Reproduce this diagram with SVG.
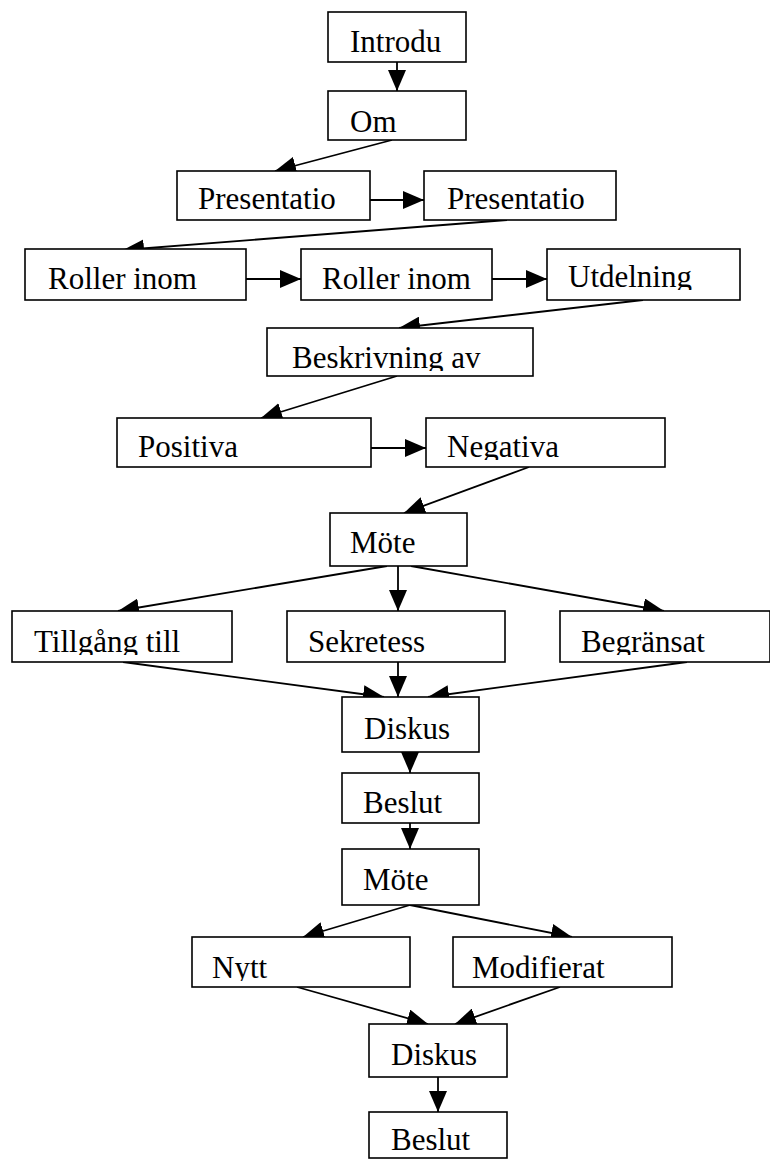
<svg xmlns="http://www.w3.org/2000/svg" width="770" height="1160" viewBox="0 0 770 1160">
<style>
.box{fill:#fff;stroke:#000;stroke-width:1.6}
.lbl{font-family:"Liberation Serif","Times New Roman",serif;font-size:31px;fill:#000}
.edge{stroke:#000;stroke-width:1.8;fill:none;marker-end:url(#ah)}
</style>
<defs>
<marker id="ah" markerUnits="userSpaceOnUse" markerWidth="22" markerHeight="18" refX="21" refY="9" orient="auto">
<path d="M0,0 L21,9 L0,18 Z" fill="#000"/>
</marker>
<clipPath id="c1"><rect x="328" y="12" width="138" height="43"/></clipPath>
<clipPath id="c2"><rect x="328" y="91" width="138" height="44"/></clipPath>
<clipPath id="c3"><rect x="177" y="171" width="193" height="41"/></clipPath>
<clipPath id="c4"><rect x="424" y="171" width="192" height="41"/></clipPath>
<clipPath id="c5"><rect x="25" y="249" width="221" height="43"/></clipPath>
<clipPath id="c6"><rect x="301" y="249" width="191" height="43"/></clipPath>
<clipPath id="c7"><rect x="547" y="249" width="193" height="41"/></clipPath>
<clipPath id="c8"><rect x="267" y="328" width="266" height="43"/></clipPath>
<clipPath id="c9"><rect x="117" y="418" width="254" height="42"/></clipPath>
<clipPath id="c10"><rect x="426" y="418" width="239" height="42"/></clipPath>
<clipPath id="c11"><rect x="330" y="513" width="137" height="44"/></clipPath>
<clipPath id="c12"><rect x="12" y="611" width="220" height="44"/></clipPath>
<clipPath id="c13"><rect x="287" y="611" width="218" height="44"/></clipPath>
<clipPath id="c14"><rect x="560" y="611" width="210" height="44"/></clipPath>
<clipPath id="c15"><rect x="342" y="697" width="137" height="45"/></clipPath>
<clipPath id="c16"><rect x="342" y="773" width="137" height="43"/></clipPath>
<clipPath id="c17"><rect x="342" y="849" width="137" height="45"/></clipPath>
<clipPath id="c18"><rect x="192" y="937" width="218" height="44"/></clipPath>
<clipPath id="c19"><rect x="453" y="937" width="219" height="44"/></clipPath>
<clipPath id="c20"><rect x="369" y="1024" width="138" height="45"/></clipPath>
<clipPath id="c21"><rect x="369" y="1112" width="138" height="41"/></clipPath>
</defs>

<g id="connectors">
<line class="edge" x1="397" y1="62" x2="397" y2="91"/>
<line class="edge" x1="392" y1="140" x2="275" y2="171"/>
<line class="edge" x1="370" y1="200" x2="424" y2="200"/>
<line class="edge" x1="507" y1="220" x2="123" y2="250"/>
<line class="edge" x1="246" y1="279" x2="301" y2="279"/>
<line class="edge" x1="492" y1="279" x2="547" y2="279"/>
<line class="edge" x1="643" y1="300" x2="399" y2="328"/>
<line class="edge" x1="397" y1="376" x2="261" y2="418"/>
<line class="edge" x1="371" y1="448" x2="426" y2="448"/>
<line class="edge" x1="529" y1="467" x2="404" y2="513"/>
<line class="edge" x1="387" y1="566" x2="118" y2="611"/>
<line class="edge" x1="398" y1="566" x2="398" y2="611"/>
<line class="edge" x1="411" y1="566" x2="664" y2="611"/>
<line class="edge" x1="123" y1="662" x2="384" y2="697"/>
<line class="edge" x1="398" y1="662" x2="398" y2="697"/>
<line class="edge" x1="687" y1="662" x2="428" y2="697"/>
<line class="edge" x1="410" y1="752" x2="410" y2="773"/>
<line class="edge" x1="410" y1="823" x2="410" y2="849"/>
<line class="edge" x1="410" y1="905" x2="303" y2="937"/>
<line class="edge" x1="410" y1="905" x2="572" y2="937"/>
<line class="edge" x1="297" y1="987" x2="428" y2="1024"/>
<line class="edge" x1="560" y1="987" x2="455" y2="1024"/>
<line class="edge" x1="438" y1="1077" x2="438" y2="1112"/>
</g>

<g id="n1"><rect class="box" x="328" y="12" width="138" height="50"/><text class="lbl" x="350" y="52" clip-path="url(#c1)">Introdu</text></g>
<g id="n2"><rect class="box" x="328" y="91" width="138" height="49"/><text class="lbl" x="350" y="132" clip-path="url(#c2)">Om</text></g>
<g id="n3"><rect class="box" x="177" y="171" width="193" height="49"/><text class="lbl" x="198" y="209" clip-path="url(#c3)">Presentatio</text></g>
<g id="n4"><rect class="box" x="424" y="171" width="192" height="49"/><text class="lbl" x="447" y="209" clip-path="url(#c4)">Presentatio</text></g>
<g id="n5"><rect class="box" x="25" y="249" width="221" height="51"/><text class="lbl" x="48" y="289" clip-path="url(#c5)">Roller inom</text></g>
<g id="n6"><rect class="box" x="301" y="249" width="191" height="51"/><text class="lbl" x="322" y="289" clip-path="url(#c6)">Roller inom</text></g>
<g id="n7"><rect class="box" x="547" y="249" width="193" height="51"/><text class="lbl" x="568" y="287" clip-path="url(#c7)">Utdelning</text></g>
<g id="n8"><rect class="box" x="267" y="328" width="266" height="48"/><text class="lbl" x="292" y="368" clip-path="url(#c8)">Beskrivning av</text></g>
<g id="n9"><rect class="box" x="117" y="418" width="254" height="49"/><text class="lbl" x="138" y="457" clip-path="url(#c9)">Positiva</text></g>
<g id="n10"><rect class="box" x="426" y="418" width="239" height="49"/><text class="lbl" x="447" y="457" clip-path="url(#c10)">Negativa</text></g>
<g id="n11"><rect class="box" x="330" y="513" width="137" height="53"/><text class="lbl" x="350" y="553" clip-path="url(#c11)">Möte</text></g>
<g id="n12"><rect class="box" x="12" y="611" width="220" height="51"/><text class="lbl" x="34" y="652" clip-path="url(#c12)">Tillgång till</text></g>
<g id="n13"><rect class="box" x="287" y="611" width="218" height="51"/><text class="lbl" x="308" y="652" clip-path="url(#c13)">Sekretess</text></g>
<g id="n14"><rect class="box" x="560" y="611" width="210" height="51"/><text class="lbl" x="581" y="652" clip-path="url(#c14)">Begränsat</text></g>
<g id="n15"><rect class="box" x="342" y="697" width="137" height="55"/><text class="lbl" x="364" y="739" clip-path="url(#c15)">Diskus</text></g>
<g id="n16"><rect class="box" x="342" y="773" width="137" height="50"/><text class="lbl" x="363" y="813" clip-path="url(#c16)">Beslut</text></g>
<g id="n17"><rect class="box" x="342" y="849" width="137" height="56"/><text class="lbl" x="363" y="890" clip-path="url(#c17)">Möte</text></g>
<g id="n18"><rect class="box" x="192" y="937" width="218" height="50"/><text class="lbl" x="212" y="978" clip-path="url(#c18)">Nytt</text></g>
<g id="n19"><rect class="box" x="453" y="937" width="219" height="50"/><text class="lbl" x="472" y="978" clip-path="url(#c19)">Modifierat</text></g>
<g id="n20"><rect class="box" x="369" y="1024" width="138" height="53"/><text class="lbl" x="391" y="1065" clip-path="url(#c20)">Diskus</text></g>
<g id="n21"><rect class="box" x="369" y="1112" width="138" height="46"/><text class="lbl" x="391" y="1150" clip-path="url(#c21)">Beslut</text></g>
</svg>
